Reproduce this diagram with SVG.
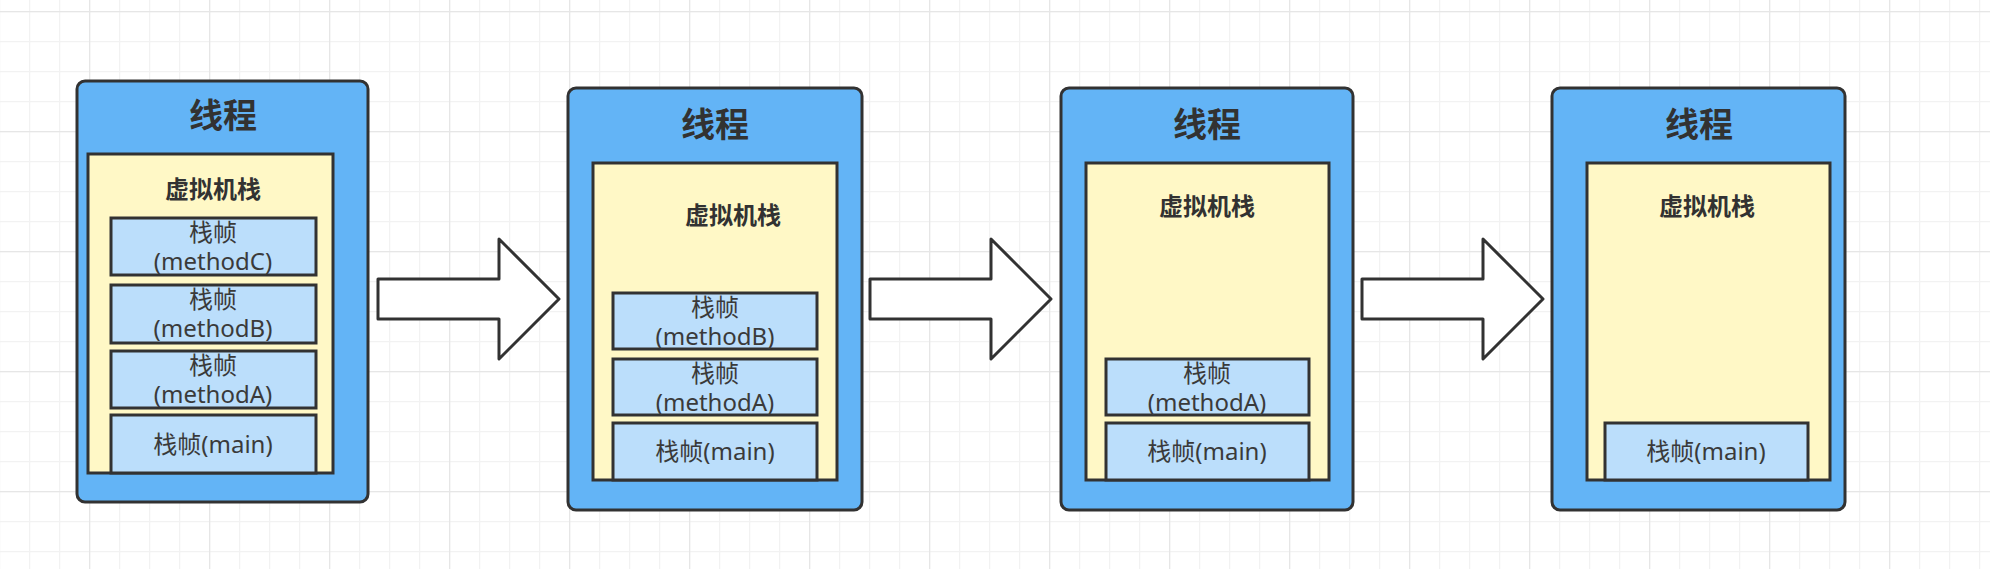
<svg xmlns="http://www.w3.org/2000/svg" width="1990" height="569" viewBox="0 0 1990 569">
  <defs>
    <pattern id="gMinor" patternUnits="userSpaceOnUse" x="29" y="11" width="30" height="30">
      <path d="M0 0.5 H30 M0.5 0 V30" stroke="#f2f2f2" stroke-width="1.5" fill="none"/>
    </pattern>
    <pattern id="gMajor" patternUnits="userSpaceOnUse" x="89" y="11" width="120" height="120">
      <path d="M0 0.5 H120 M0.5 0 V120" stroke="#e6e6e6" stroke-width="1.5" fill="none"/>
    </pattern>
    <style>
      .thread { fill: #63b4f6; stroke: #323232; stroke-width: 3; }
      .vm { fill: #fff8c6; stroke: #323232; stroke-width: 3; }
      .frame { fill: #bbdefb; stroke: #323232; stroke-width: 3; }
      .arrow { fill: #ffffff; stroke: #323232; stroke-width: 3; stroke-linejoin: round; }
      .title { font-family: "Noto Sans CJK SC", "Noto Sans", sans-serif; font-weight: bold; font-size: 34px; fill: #323232; text-anchor: middle; dominant-baseline: central; }
      .vmt { font-family: "Noto Sans CJK SC", "Noto Sans", sans-serif; font-weight: bold; font-size: 24px; fill: #323232; text-anchor: middle; dominant-baseline: central; }
      .ft { font-family: "Noto Sans", "Noto Sans CJK SC", sans-serif; font-size: 24px; fill: #3a3a3a; text-anchor: middle; }
    </style>
  </defs>
  <rect x="0" y="0" width="1990" height="569" fill="#ffffff"/>
  <rect x="0" y="0" width="1990" height="569" fill="url(#gMinor)"/>
  <rect x="0" y="0" width="1990" height="569" fill="url(#gMajor)"/>

  <g id="connectors">
    <polygon class="arrow" points="378,279 499,279 499,239 559,299 499,359 499,319 378,319"/>
    <polygon class="arrow" points="870,279 991,279 991,239 1051,299 991,359 991,319 870,319"/>
    <polygon class="arrow" points="1362,279 1483,279 1483,239 1543,299 1483,359 1483,319 1362,319"/>
  </g>

  <g id="thread1">
    <rect class="thread" x="77" y="81" width="291" height="421" rx="8"/>
    <text class="title" x="223" y="113">线程</text>
    <rect class="vm" x="88" y="154" width="245" height="319"/>
    <text class="vmt" x="213" y="187">虚拟机栈</text>
    <g id="t1-frameC">
      <rect class="frame" x="111" y="218" width="205" height="57"/>
      <text class="ft" x="213" y="241">栈帧</text>
      <text class="ft" x="213" y="270">(methodC)</text>
    </g>
    <g id="t1-frameB">
      <rect class="frame" x="111" y="285" width="205" height="58"/>
      <text class="ft" x="213" y="308">栈帧</text>
      <text class="ft" x="213" y="337">(methodB)</text>
    </g>
    <g id="t1-frameA">
      <rect class="frame" x="111" y="351" width="205" height="57"/>
      <text class="ft" x="213" y="374">栈帧</text>
      <text class="ft" x="213" y="403">(methodA)</text>
    </g>
    <g id="t1-main">
      <rect class="frame" x="111" y="415" width="205" height="58"/>
      <text class="ft" x="213" y="453">栈帧(main)</text>
    </g>
  </g>

  <g id="thread2">
    <rect class="thread" x="568" y="88" width="294" height="422" rx="8"/>
    <text class="title" x="715" y="122">线程</text>
    <rect class="vm" x="593" y="163" width="244" height="317"/>
    <text class="vmt" x="733" y="213">虚拟机栈</text>
    <g id="t2-frameB">
      <rect class="frame" x="613" y="293" width="204" height="56"/>
      <text class="ft" x="715" y="316">栈帧</text>
      <text class="ft" x="715" y="345">(methodB)</text>
    </g>
    <g id="t2-frameA">
      <rect class="frame" x="613" y="359" width="204" height="56"/>
      <text class="ft" x="715" y="382">栈帧</text>
      <text class="ft" x="715" y="411">(methodA)</text>
    </g>
    <g id="t2-main">
      <rect class="frame" x="613" y="423" width="204" height="57"/>
      <text class="ft" x="715" y="460">栈帧(main)</text>
    </g>
  </g>

  <g id="thread3">
    <rect class="thread" x="1061" y="88" width="292" height="422" rx="8"/>
    <text class="title" x="1207" y="122">线程</text>
    <rect class="vm" x="1086" y="163" width="243" height="317"/>
    <text class="vmt" x="1207" y="204">虚拟机栈</text>
    <g id="t3-frameA">
      <rect class="frame" x="1106" y="359" width="203" height="56"/>
      <text class="ft" x="1207" y="382">栈帧</text>
      <text class="ft" x="1207" y="411">(methodA)</text>
    </g>
    <g id="t3-main">
      <rect class="frame" x="1106" y="423" width="203" height="57"/>
      <text class="ft" x="1207" y="460">栈帧(main)</text>
    </g>
  </g>

  <g id="thread4">
    <rect class="thread" x="1552" y="88" width="293" height="422" rx="8"/>
    <text class="title" x="1699" y="122">线程</text>
    <rect class="vm" x="1587" y="163" width="243" height="317"/>
    <text class="vmt" x="1707" y="204">虚拟机栈</text>
    <g id="t4-main">
      <rect class="frame" x="1605" y="423" width="203" height="57"/>
      <text class="ft" x="1706" y="460">栈帧(main)</text>
    </g>
  </g>
</svg>
